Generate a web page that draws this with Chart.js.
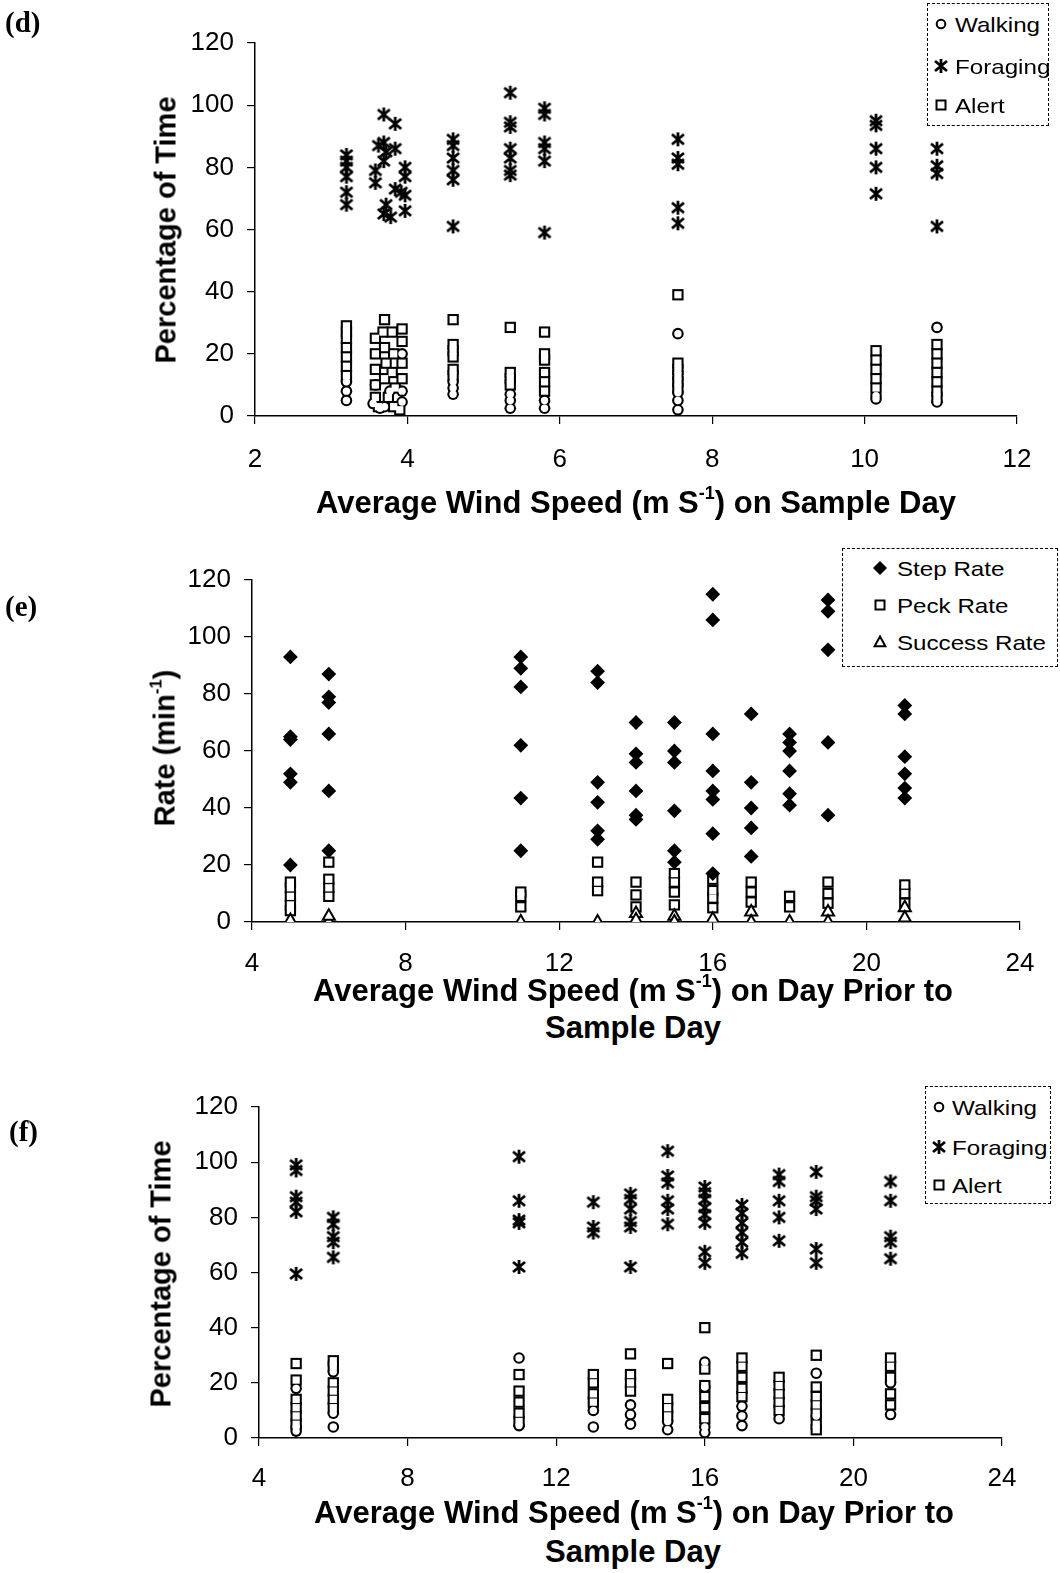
<!DOCTYPE html>
<html lang="en">
<head>
<meta charset="UTF-8">
<title>Wind speed, activity budget and foraging rates</title>
<script src="https://cdn.jsdelivr.net/npm/chart.js"></script>
<style>
  body { margin: 0; background: #fff; color: #000; font-family: "Liberation Sans", Arial, Helvetica, sans-serif; }
  #page { position: relative; width: 1060px; height: 1573px; overflow: hidden; background: #fff; }
  .plot { position: absolute; left: 0; }
  .lab { position: absolute; font-family: "Liberation Serif", "Times New Roman", serif; font-weight: bold; font-size: 29px; line-height: 1; }
  .ytitle { position: absolute; font-weight: bold; font-size: 29px; white-space: nowrap; line-height: 1; transform: translate(-50%, -50%) rotate(-90deg); }
  .xtitle { position: absolute; font-weight: bold; font-size: 31px; white-space: nowrap; line-height: 1; transform: translate(-50%, -50%); }
  sup { font-size: 58%; vertical-align: 0.75em; line-height: 0; }
  .legend { position: absolute; border: 1.5px dashed #000; background: #fff; box-sizing: border-box; }
  .icon { position: absolute; }
  .lt { position: absolute; font-size: 21px; line-height: 1; white-space: nowrap; transform-origin: left center; transform: translateY(-50%) scaleX(1.15); }
</style>
</head>
<body>
<div id="page">
  <canvas id="chartD" class="plot" width="1060" height="500" style="top:0px"></canvas>
  <canvas id="chartE" class="plot" width="1060" height="470" style="top:530px"></canvas>
  <canvas id="chartF" class="plot" width="1060" height="470" style="top:1060px"></canvas>

  <div class="lab" style="left:5px;top:8px">(d)</div>
  <div class="lab" style="left:5px;top:592px">(e)</div>
  <div class="lab" style="left:9px;top:1117px">(f)</div>

  <div class="ytitle" style="left:166px;top:230px">Percentage of Time</div>
  <div class="xtitle" style="left:636px;top:502px">Average Wind Speed (m S<sup>-1</sup>) on Sample Day</div>

  <div class="ytitle" style="left:165px;top:748px">Rate (min<sup>-1</sup>)</div>
  <div class="xtitle" style="left:633px;top:990px">Average Wind Speed (m S<sup>-1</sup>) on Day Prior to</div>
  <div class="xtitle" style="left:633px;top:1027px">Sample Day</div>

  <div class="ytitle" style="left:161px;top:1274px">Percentage of Time</div>
  <div class="xtitle" style="left:634px;top:1512px">Average Wind Speed (m S<sup>-1</sup>) on Day Prior to</div>
  <div class="xtitle" style="left:633px;top:1551px">Sample Day</div>

  <!-- legends -->
  <div class="legend" style="left:927px;top:3px;width:122px;height:123px"></div>
  <canvas class="icon" data-m="circle" width="16" height="16" style="left:933px;top:16px"></canvas>
  <span class="lt" style="left:955px;top:24px">Walking</span>
  <canvas class="icon" data-m="star" width="16" height="16" style="left:933px;top:58px"></canvas>
  <span class="lt" style="left:955px;top:66px">Foraging</span>
  <canvas class="icon" data-m="square" width="16" height="16" style="left:933px;top:97px"></canvas>
  <span class="lt" style="left:955px;top:105px">Alert</span>

  <div class="legend" style="left:842px;top:548px;width:216px;height:119px"></div>
  <canvas class="icon" data-m="diamond" width="16" height="16" style="left:872px;top:560px"></canvas>
  <span class="lt" style="left:897px;top:568px">Step Rate</span>
  <canvas class="icon" data-m="square" width="16" height="16" style="left:872px;top:597px"></canvas>
  <span class="lt" style="left:897px;top:605px">Peck Rate</span>
  <canvas class="icon" data-m="triangle" width="16" height="16" style="left:872px;top:634px"></canvas>
  <span class="lt" style="left:897px;top:642px">Success Rate</span>

  <div class="legend" style="left:925px;top:1086px;width:126px;height:118px"></div>
  <canvas class="icon" data-m="circle" width="16" height="16" style="left:931px;top:1099px"></canvas>
  <span class="lt" style="left:952px;top:1107px">Walking</span>
  <canvas class="icon" data-m="star" width="16" height="16" style="left:931px;top:1139px"></canvas>
  <span class="lt" style="left:952px;top:1147px">Foraging</span>
  <canvas class="icon" data-m="square" width="16" height="16" style="left:931px;top:1177px"></canvas>
  <span class="lt" style="left:952px;top:1185px">Alert</span>
</div>

<script>
// (d) wind speed on the sample day, [wind, % of time]
const dForaging = [
  [3.2,84],[3.2,82],[3.2,80],[3.2,77],[3.2,72],[3.2,68],
  [3.69,97],[3.84,94],[3.62,87],[3.69,88],[3.72,85],[3.84,86],[3.69,82],[3.58,79],[3.58,75],
  [3.97,80],[3.97,77],[3.84,73],[3.92,72],[3.97,71],[3.72,68],[3.69,65],[3.78,64],[3.97,66],
  [4.6,89],[4.6,87],[4.6,83],[4.6,79],[4.6,76],[4.6,61],
  [5.35,104],[5.35,94.5],[5.35,93],[5.35,86],[5.35,83],[5.35,79],[5.35,77.5],
  [5.8,99],[5.8,97],[5.8,88],[5.8,86],[5.8,82],[5.8,59],
  [7.55,89],[7.55,83],[7.55,81],[7.55,67],[7.55,62],
  [10.15,95],[10.15,93.5],[10.15,86],[10.15,80],[10.15,71.5],
  [10.95,86],[10.95,80.5],[10.95,78],[10.95,61]
];
const dWalking = [
  [3.2,11],[3.2,8],[3.2,5],
  [3.58,10],[3.55,4],[3.64,2.5],[3.77,8],[3.93,4.5],[3.93,8],[3.93,20],[3.7,3],
  [4.6,11],[4.6,9],[4.6,7],
  [5.35,7],[5.35,5],[5.35,2.5],
  [5.8,5],[5.8,2.5],
  [7.55,26.5],[7.55,7.5],[7.55,5],[7.55,2],
  [10.15,6.5],[10.15,5.5],
  [10.95,28.5],[10.95,4.5]
];
const dAlert = [
  [3.2,29],[3.2,27],[3.2,25],[3.2,22],[3.2,19],[3.2,16],[3.2,13],
  [3.7,31],[3.58,25],[3.58,20],[3.58,15],[3.58,10],[3.58,6],[3.62,3],[3.68,27],[3.7,22],
  [3.72,17],[3.7,12],[3.75,6],[3.8,27],[3.82,20],[3.8,14],[3.84,9],[3.82,3],
  [3.93,28],[3.93,24],[3.93,17],[3.93,12],[3.9,2],
  [4.6,31],[4.6,23],[4.6,21],[4.6,19],[4.6,15],[4.6,13],
  [5.35,28.5],[5.35,14],[5.35,12],[5.35,10],
  [5.8,27],[5.8,20],[5.8,18],[5.8,14],[5.8,11],[5.8,8],
  [7.55,39],[7.55,17],[7.55,15],[7.55,13],[7.55,11],[7.55,9],
  [10.15,21],[10.15,18],[10.15,15],[10.15,12],[10.15,9],
  [10.95,23],[10.95,20],[10.95,17],[10.95,14],[10.95,11],[10.95,8],[10.95,6]
];

// (e) wind speed on the day before, [wind, rate per min]
const eStep = [
  [5,93],[5,65],[5,64],[5,52],[5,49],[5,20],
  [6,87],[6,79],[6,77],[6,66],[6,46],[6,25],
  [11,93],[11,89],[11,82.5],[11,62],[11,43.5],[11,25],
  [13,88],[13,84],[13,49],[13,42],[13,32],[13,29],
  [14,70],[14,59],[14,56],[14,46],[14,37.5],[14,36],
  [15,70],[15,60],[15,56],[15,39],[15,25],[15,21],
  [16,115],[16,106],[16,66],[16,53],[16,46],[16,43],[16,31],[16,17],
  [17,73],[17,49],[17,40],[17,33],[17,23],
  [18,66],[18,63],[18,60],[18,53],[18,45],[18,41],
  [19,113],[19,109],[19,95.5],[19,63],[19,37.5],
  [21,76],[21,73],[21,58],[21,52],[21,47],[21,43.5]
];
const ePeck = [
  [5,14],[5,12],[5,9],[5,6],[5,4],
  [6,21],[6,15],[6,12],[6,9],
  [11,10.5],[11,9],[11,5.3],
  [13,21],[13,14],[13,11],
  [14,14],[14,9.5],[14,5.3],
  [15,17],[15,14],[15,10.5],[15,6],
  [16,15],[16,11],[16,8.4],[16,5],
  [17,14],[17,10.5],[17,7],
  [18,9],[18,5.3],
  [19,14],[19,10],[19,6.6],
  [21,13],[21,10],[21,6.6]
];
const eSuccess = [
  [5,0],[5,0.5],[6,0],[6,2],[11,0],[13,0],[14,3],[14,0.7],[15,2],[15,0],[16,0],[16,1],
  [17,3.5],[17,0],[18,0],[19,3.5],[19,0],[21,5],[21,1.4]
];

// (f) wind speed on the day before, [wind, % of time]
const fForaging = [
  [5,99],[5,97],[5,87.5],[5,85.5],[5,82],[5,59.5],
  [6,80],[6,77.5],[6,73],[6,71],[6,65.5],
  [11,102],[11,86],[11,79],[11,78],[11,62],
  [13,85.5],[13,76.5],[13,74.5],
  [14,88.5],[14,86.5],[14,83],[14,78.5],[14,76.5],[14,62],
  [15,104],[15,95],[15,92.5],[15,86],[15,83],[15,77.5],
  [16,91],[16,89],[16,86.5],[16,83.5],[16,81],[16,78],[16,67.5],[16,63.5],
  [17,84.5],[17,81.5],[17,78],[17,74.5],[17,71],[17,67],
  [18,95.5],[18,93],[18,86],[18,80],[18,71.5],
  [19,96.5],[19,87.5],[19,86],[19,83],[19,68.5],[19,63.5],
  [21,93],[21,86],[21,73],[21,71],[21,65]
];
const fWalking = [
  [5,18],[5,4],[5,2.5],
  [6,24],[6,9],[6,4],
  [11,29],[11,4.5],
  [13,10],[13,4],
  [14,12],[14,8.5],[14,5],
  [15,6],[15,3],
  [16,27.5],[16,18.5],[16,4],[16,2],
  [17,11.5],[17,8],[17,4.5],
  [18,7],
  [19,23.5],[19,8],
  [21,20],[21,8.5]
];
const fAlert = [
  [5,27],[5,21],[5,14],[5,11],[5,8],[5,5],
  [6,28],[6,26],[6,20],[6,17],[6,14],[6,11],
  [11,23],[11,17],[11,13],[11,9],[11,6],
  [13,23],[13,20],[13,16],[13,13],
  [14,30.5],[14,23],[14,20],[14,17],
  [15,27],[15,14],[15,11],[15,8],
  [16,40],[16,25],[16,19],[16,15],[16,11],[16,7],
  [17,29],[17,26],[17,22],[17,18],[17,15],
  [18,22],[18,19],[18,16],[18,13],[18,10],
  [19,30],[19,18.5],[19,15],[19,12],[19,9],[19,5],[19,3],
  [21,29],[21,26],[21,22],[21,16],[21,12]
];

const pctTicks = [0, 20, 40, 60, 80, 100, 120];

function drawMarker(ctx, type, x, y) {
  ctx.save();
  ctx.strokeStyle = '#000';
  ctx.fillStyle = '#000';
  ctx.lineWidth = 2;
  ctx.beginPath();
  if (type === 'star') {
    ctx.lineWidth = 2.8;
    ctx.moveTo(x, y - 7); ctx.lineTo(x, y + 7);
    ctx.moveTo(x - 6, y - 5); ctx.lineTo(x + 6, y + 5);
    ctx.moveTo(x + 6, y - 5); ctx.lineTo(x - 6, y + 5);
    ctx.stroke();
  } else if (type === 'circle') {
    ctx.arc(x, y, 4.3, 0, Math.PI * 2);
    ctx.fillStyle = '#fff'; ctx.fill(); ctx.stroke();
  } else if (type === 'square') {
    ctx.rect(x - 4.5, y - 4.5, 9, 9);
    ctx.fillStyle = '#fff'; ctx.fill(); ctx.stroke();
  } else if (type === 'diamond') {
    ctx.moveTo(x, y - 7); ctx.lineTo(x + 7, y); ctx.lineTo(x, y + 7); ctx.lineTo(x - 7, y);
    ctx.closePath(); ctx.fill();
  } else if (type === 'triangle') {
    ctx.moveTo(x, y - 5.5); ctx.lineTo(x + 5.4, y + 4.2); ctx.lineTo(x - 5.4, y + 4.2);
    ctx.closePath(); ctx.fillStyle = '#fff'; ctx.fill(); ctx.stroke();
  }
  ctx.restore();
}

document.querySelectorAll('canvas.icon').forEach(c => {
  drawMarker(c.getContext('2d'), c.dataset.m, 8, 8);
});

const starImg = document.createElement('canvas');
starImg.width = 18; starImg.height = 18;
drawMarker(starImg.getContext('2d'), 'star', 9, 9);

const pts = arr => arr.map(p => ({ x: p[0], y: p[1] }));

Chart.defaults.font.family = '"Liberation Sans", Arial, Helvetica, sans-serif';
Chart.defaults.color = '#000';

// open symbols: a black layer under a white layer, so touching symbols merge like the print
function openLayers(data, style, rOut, rIn, ord) {
  return [
    { data: pts(data), pointStyle: style, pointRadius: rIn, backgroundColor: '#fff', borderWidth: 0, order: ord },
    { data: pts(data), pointStyle: style, pointRadius: rOut, backgroundColor: '#000', borderWidth: 0, order: ord + 10 }
  ];
}

function makePanel(id, o) {
  new Chart(document.getElementById(id), {
    type: 'scatter',
    data: { datasets: o.datasets },
    options: {
      responsive: false,
      animation: false,
      events: [],
      layout: { padding: { top: o.padTop, right: o.padRight, left: 0, bottom: 0 } },
      plugins: { legend: { display: false }, tooltip: { enabled: false } },
      scales: {
        x: {
          type: 'linear', min: o.xMin, max: o.xMax,
          ticks: { stepSize: o.xStep, autoSkip: false, maxRotation: 0, padding: o.xPad, font: { size: 26 } },
          grid: { drawOnChartArea: false, drawTicks: true, tickLength: 8, color: '#000', lineWidth: 1.2 },
          border: { display: true, color: '#000', width: 1.5, dash: o.xDash || [] },
          afterFit: s => { s.height = o.xAxisH; }
        },
        y: {
          type: 'linear', min: 0, max: 120,
          afterBuildTicks: s => { s.ticks = pctTicks.map(v => ({ value: v })); },
          ticks: { padding: 13, font: { size: 26 } },
          grid: { drawOnChartArea: false, drawTicks: true, tickLength: 8, color: '#000', lineWidth: 1.2 },
          border: { display: true, color: '#000', width: 1.5 },
          afterFit: s => { s.width = o.yAxisW; }
        }
      }
    }
  });
}

makePanel('chartD', {
  xMin: 2, xMax: 12, xStep: 2, padTop: 43, padRight: 43, xAxisH: 84, yAxisW: 255, xPad: 20,
  datasets: [
    { data: pts(dForaging), pointStyle: starImg, pointRadius: 8, order: 0 },
    ...openLayers(dWalking, 'circle', 5.8, 3.7, 1),
    ...openLayers(dAlert, 'rect', 8, 5.1, 2)
  ]
});

makePanel('chartE', {
  xMin: 4, xMax: 24, xStep: 4, padTop: 50, padRight: 40, xAxisH: 78, yAxisW: 252, xPad: 18, xDash: [10, 5],
  datasets: [
    { data: pts(eStep), pointStyle: 'rectRot', pointRadius: 7.4, backgroundColor: '#000', borderWidth: 0, order: 0 },
    { data: pts(eSuccess), pointStyle: 'triangle', pointRadius: 7, backgroundColor: '#fff', borderColor: '#000', borderWidth: 2, order: 1 },
    ...openLayers(ePeck, 'rect', 8, 5.1, 2)
  ]
});

makePanel('chartF', {
  xMin: 4, xMax: 24, xStep: 4, padTop: 47, padRight: 58, xAxisH: 92, yAxisW: 259, xPad: 17,
  datasets: [
    { data: pts(fForaging), pointStyle: starImg, pointRadius: 8, order: 0 },
    ...openLayers(fWalking, 'circle', 5.8, 3.7, 1),
    ...openLayers(fAlert, 'rect', 8, 5.1, 2)
  ]
});
</script>
</body>
</html>
